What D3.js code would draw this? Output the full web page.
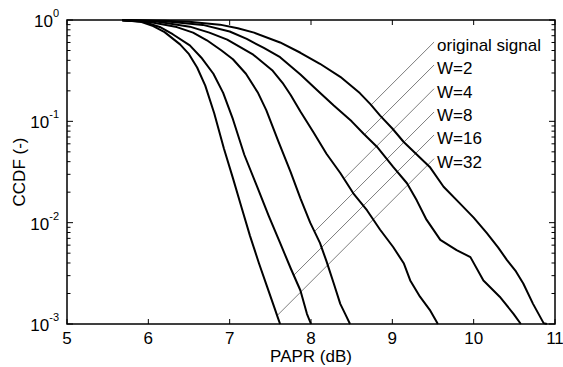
<!DOCTYPE html>
<html>
<head>
<meta charset="utf-8">
<script src="https://cdn.jsdelivr.net/npm/d3@7"></script>
<style>
  body { margin: 0; background: #fff; }
  svg { display: block; font-family: "Liberation Sans", Arial, sans-serif; }
</style>
</head>
<body>
<div id="chart"></div>
<script>
// PAPR (dB) / CCDF pairs
const original = [[5.68,0.998],[6.2,0.985],[6.5,0.96],[6.88,0.9],[7.1,0.83],[7.3,0.75],[7.62,0.6],[7.87,0.475],[8.11,0.37],[8.36,0.275],[8.6,0.19],[8.73,0.148],[8.85,0.114],[9.0,0.085],[9.14,0.0625],[9.3,0.047],[9.46,0.0355],[9.63,0.0226],[9.83,0.0155],[10.0,0.0112],[10.16,0.00794],[10.3,0.0057],[10.41,0.00427],[10.52,0.0033],[10.61,0.00251],[10.73,0.00158],[10.86,0.00102],[10.9,0.001]];
const w2 = [[5.68,0.998],[6.2,0.97],[6.67,0.895],[7.0,0.77],[7.21,0.65],[7.42,0.53],[7.62,0.43],[7.87,0.29],[8.07,0.205],[8.28,0.143],[8.5,0.1],[8.65,0.075],[8.81,0.0562],[9.01,0.0355],[9.18,0.0245],[9.3,0.0166],[9.42,0.0107],[9.59,0.00676],[9.79,0.00537],[9.96,0.00457],[10.12,0.00269],[10.32,0.00186],[10.49,0.00126],[10.58,0.001]];
const w4 = [[5.68,0.997],[6.1,0.965],[6.51,0.86],[6.75,0.75],[6.97,0.64],[7.29,0.455],[7.53,0.315],[7.65,0.24],[7.75,0.182],[7.87,0.125],[8.03,0.078],[8.19,0.0479],[8.36,0.0309],[8.52,0.0195],[8.69,0.0132],[8.85,0.00851],[9.01,0.00575],[9.14,0.00398],[9.22,0.00269],[9.34,0.00186],[9.46,0.00138],[9.56,0.001]];
const w8 = [[5.68,0.996],[6.0,0.96],[6.35,0.851],[6.55,0.75],[6.72,0.631],[6.9,0.5],[7.04,0.41],[7.2,0.295],[7.35,0.19],[7.45,0.129],[7.6,0.0631],[7.75,0.0316],[7.87,0.0174],[7.99,0.01],[8.11,0.00631],[8.19,0.00417],[8.28,0.00251],[8.36,0.00158],[8.42,0.00126],[8.48,0.001]];
const w16 = [[5.68,0.995],[5.95,0.955],[6.14,0.853],[6.3,0.724],[6.51,0.562],[6.65,0.427],[6.8,0.295],[6.92,0.191],[7.04,0.105],[7.18,0.0468],[7.34,0.0224],[7.48,0.0117],[7.62,0.00631],[7.75,0.00355],[7.87,0.00214],[7.95,0.00126],[8.0,0.001]];
const w32 = [[5.68,0.995],[5.9,0.966],[6.06,0.871],[6.2,0.759],[6.39,0.575],[6.5,0.46],[6.6,0.34],[6.7,0.225],[6.81,0.12],[6.93,0.0537],[7.04,0.0275],[7.15,0.0138],[7.25,0.00741],[7.36,0.00398],[7.46,0.00234],[7.55,0.00145],[7.59,0.00117],[7.62,0.001]];

const seriesNames = ["original signal", "W=2", "W=4", "W=8", "W=16", "W=32"];
const seriesData = [original, w2, w4, w8, w16, w32];
const labelCcdf = [0.566, 0.336, 0.196, 0.1155, 0.0685, 0.040];
const labelPapr = 9.55;

const xTicks = [5, 6, 7, 8, 9, 10, 11];
const yTicks = [1, 0.1, 0.01, 0.001];
const yExp = ["0", "-1", "-2", "-3"];

const width = 563, height = 367;
const margin = { top: 20, right: 8, bottom: 43, left: 67 };

const svg = d3.select("#chart").append("svg")
  .attr("width", width).attr("height", height);

const x = d3.scaleLinear().domain([5, 11]).range([margin.left, width - margin.right]);
const y = d3.scaleLog().domain([0.001, 1]).range([height - margin.bottom, margin.top]);

const x0 = x.range()[0], x1 = x.range()[1], y0 = y.range()[1], y1 = y.range()[0];

// minor log ticks
const minorTicks = [];
[0.001, 0.01, 0.1].forEach(d => { for (let k = 2; k <= 9; k++) minorTicks.push(d * k); });

const tickG = svg.append("g").attr("stroke", "#000").attr("stroke-width", 1);
xTicks.forEach(t => {
  tickG.append("line").attr("x1", x(t)).attr("x2", x(t)).attr("y1", y1).attr("y2", y1 - 5);
  tickG.append("line").attr("x1", x(t)).attr("x2", x(t)).attr("y1", y0).attr("y2", y0 + 5);
});
yTicks.forEach(t => {
  tickG.append("line").attr("x1", x0).attr("x2", x0 + 6).attr("y1", y(t)).attr("y2", y(t));
  tickG.append("line").attr("x1", x1).attr("x2", x1 - 6).attr("y1", y(t)).attr("y2", y(t));
});
minorTicks.forEach(t => {
  tickG.append("line").attr("x1", x0).attr("x2", x0 + 3.5).attr("y1", y(t)).attr("y2", y(t));
  tickG.append("line").attr("x1", x1).attr("x2", x1 - 3.5).attr("y1", y(t)).attr("y2", y(t));
});

// annotation lines: 45 degrees from the label down to its curve
const line = d3.line().x(d => x(d[0])).y(d => y(d[1]));

seriesNames.forEach((name, i) => {
  const lx = x(labelPapr) - 3, ly = y(labelCcdf[i]) - 3;
  const c = lx + ly;
  const pts = seriesData[i].map(d => [x(d[0]), y(d[1])]);
  let hit = null;
  for (let k = 1; k < pts.length && !hit; k++) {
    const a = pts[k - 1][0] + pts[k - 1][1] - c, b = pts[k][0] + pts[k][1] - c;
    if (a <= 0 && b > 0) {
      const t = a / (a - b);
      hit = [pts[k - 1][0] + t * (pts[k][0] - pts[k - 1][0]), pts[k - 1][1] + t * (pts[k][1] - pts[k - 1][1])];
    }
  }
  if (hit) {
    svg.append("line")
      .attr("x1", lx).attr("y1", ly).attr("x2", hit[0]).attr("y2", hit[1])
      .attr("stroke", "#6e6e6e").attr("stroke-width", 0.9);
  }
  svg.append("text")
    .attr("x", x(labelPapr)).attr("y", y(labelCcdf[i]) + 6)
    .attr("font-size", 17).text(name);
});

// curves
svg.append("g")
  .selectAll("path")
  .data(seriesData)
  .join("path")
  .attr("d", line)
  .attr("fill", "none")
  .attr("stroke", "#000")
  .attr("stroke-width", 2)
  .attr("stroke-linejoin", "round");

// box
svg.append("rect")
  .attr("x", x0).attr("y", y0).attr("width", x1 - x0).attr("height", y1 - y0)
  .attr("fill", "none").attr("stroke", "#000").attr("stroke-width", 1.5);

// tick labels
svg.append("g").selectAll("text")
  .data(xTicks)
  .join("text")
  .attr("x", d => x(d)).attr("y", y1 + 20)
  .attr("text-anchor", "middle").attr("font-size", 17)
  .text(d => d);

yTicks.forEach((t, i) => {
  const tx = svg.append("text")
    .attr("x", x0 - 8).attr("y", y(t) + 7)
    .attr("text-anchor", "end").attr("font-size", 17);
  tx.append("tspan").text("10");
  tx.append("tspan").attr("dy", -10).attr("font-size", 11).text(yExp[i]);
});

// axis titles
svg.append("text")
  .attr("x", (x0 + x1) / 2).attr("y", 362)
  .attr("text-anchor", "middle").attr("font-size", 17)
  .text("PAPR (dB)");

svg.append("text")
  .attr("transform", `translate(25,${(y0 + y1) / 2}) rotate(-90)`)
  .attr("text-anchor", "middle").attr("font-size", 17)
  .text("CCDF (-)");
</script>
</body>
</html>
